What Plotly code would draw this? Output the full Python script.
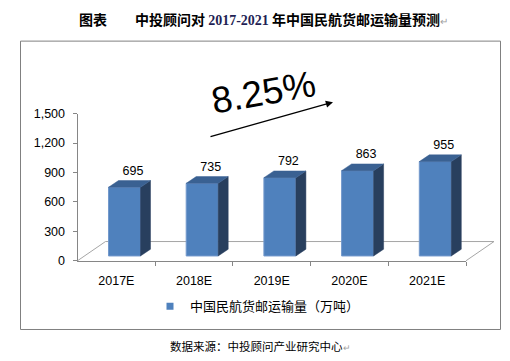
import plotly.graph_objects as go

# ---------------- data ----------------
categories = ["2017E", "2018E", "2019E", "2020E", "2021E"]
values = [695, 735, 792, 863, 955]
value_labels = ["695", "735", "792", "863", "955"]
y_tickvals = [0, 300, 600, 900, 1200, 1500]
y_ticktext = ["0", "300", "600", "900", "1,200", "1,500"]
series_name = "中国民航货邮运输量（万吨）"
growth_label = "8.25%"
title_cn_1 = "图表\u3000\u3000中投顾问对 "
title_years = "2017-2021"
title_cn_2 = " 年中国民航货邮运输量预测"
source_text = "数据来源：中投顾问产业研究中心"

# ---------------- geometry / style ----------------
W, H = 510, 361
AX_L, AX_R = 77.5, 466.0      # front floor edge (category axis) in px
AX_B, AX_T = 264.0, 111.0     # value axis 0 and 1500 in px
STEP = (AX_R - AX_L) / len(categories)
BAR0_CX = 124.5               # px centre of first bar front face
BAR_BASE = 259.0              # px of bar bottom (set back on the floor)
K = 0.1028                    # px per unit for bars
BAR_W = 32.0 / STEP
DX = 10.0 / STEP              # bar depth (x2 units)
DY = 7.0 / K                  # bar depth (y2 units)
FLOOR_DX = 28.0 / STEP
FLOOR_DY = 20.0 / K

FRONT = "#4F81BD"
SIDE = "#283F5E"
TOP = "#3A6192"
GRAY = "#868686"
NUM_FONT = "Liberation Sans, Arial, sans-serif"
CJK_FONT = "Noto Sans CJK SC, sans-serif"

x2_range = [(0 - BAR0_CX) / STEP, (W - BAR0_CX) / STEP]
y2_range = [(BAR_BASE - H) / K, BAR_BASE / K]

fig = go.Figure()

# front faces
fig.add_trace(go.Bar(
    x=list(range(len(values))), y=values, width=BAR_W,
    marker=dict(color=FRONT, line=dict(color="#7399CC", width=1)),
    xaxis="x2", yaxis="y2", showlegend=False, hoverinfo="skip"))

# side faces and top faces
sx, sy, tx, ty = [], [], [], []
for i, v in enumerate(values):
    r = i + BAR_W / 2
    l = i - BAR_W / 2
    sx += [r, r + DX, r + DX, r, r, None]
    sy += [0, DY, v + DY, v, 0, None]
    tx += [l, r, r + DX, l + DX, l, None]
    ty += [v, v, v + DY, v + DY, v, None]
fig.add_trace(go.Scatter(x=sx, y=sy, mode="lines", fill="toself", fillcolor=SIDE,
                         line=dict(color=SIDE, width=0.5), xaxis="x2", yaxis="y2",
                         showlegend=False, hoverinfo="skip"))
fig.add_trace(go.Scatter(x=tx, y=ty, mode="lines", fill="toself", fillcolor=TOP,
                         line=dict(color=TOP, width=0.5), xaxis="x2", yaxis="y2",
                         showlegend=False, hoverinfo="skip"))

# data labels
fig.add_trace(go.Scatter(
    x=[i + 8.5 / STEP for i in range(len(values))],
    y=[v + 16.5 / K for v in values],
    text=value_labels, mode="text", textposition="middle center",
    textfont=dict(family=NUM_FONT, size=12.5, color="black"),
    xaxis="x2", yaxis="y2", cliponaxis=False, showlegend=False, hoverinfo="skip"))

# legend entry (on the main axes so they are drawn)
fig.add_trace(go.Scatter(
    x=[None], y=[None], mode="markers", name=series_name,
    marker=dict(symbol="square", size=7, color=FRONT),
    xaxis="x", yaxis="y"))

# floor (back edge and sides)
fl_x = (AX_L - BAR0_CX) / STEP
fr_x = (AX_R - BAR0_CX) / STEP
f_y = -(AX_B - BAR_BASE) / K
floor_path = (f"M {fl_x},{f_y} L {fl_x + FLOOR_DX},{f_y + FLOOR_DY} "
              f"L {fr_x + FLOOR_DX},{f_y + FLOOR_DY} L {fr_x},{f_y}")
shapes = [
    dict(type="path", path=floor_path, xref="x2", yref="y2", layer="below",
         line=dict(color="#A6A6A6", width=1)),
    dict(type="rect", xref="paper", yref="paper",
         x0=20.5 / W, x1=500.5 / W, y0=1 - 335.5 / H, y1=1 - 35.5 / H,
         line=dict(color="#808080", width=1), fillcolor="rgba(0,0,0,0)"),
]

annotations = [
    dict(xref="paper", yref="paper", x=263 / W, y=1 - 12 / H, showarrow=False,
         xanchor="center", yanchor="middle",
         text=(title_cn_1 + f"<span style='font-family:Liberation Serif;color:#1F1F55'>{title_years}</span>"
               + title_cn_2 + "<span style='color:#A0A0A0;font-weight:normal;font-size:10px'>↵</span>"),
         font=dict(family=CJK_FONT, size=14, color="black", weight="bold")),
    dict(xref="paper", yref="paper", x=260 / W, y=1 - 352.5 / H, showarrow=False,
         xanchor="center", yanchor="middle",
         text=source_text + "<span style='color:#A0A0A0;font-size:9px'>↵</span>",
         font=dict(family=CJK_FONT, size=11.5, color="black")),
    dict(xref="paper", yref="paper", x=263 / W, y=1 - 88.5 / H, showarrow=False,
         xanchor="center", yanchor="middle", text=growth_label, textangle=-10,
         font=dict(family=NUM_FONT, size=37, color="black")),
    dict(xref="paper", yref="paper", x=333 / W, y=1 - 99 / H, text="",
         showarrow=True, ax=-124, ay=35, arrowhead=2, arrowsize=1.1,
         arrowwidth=1.3, arrowcolor="black"),
]

fig.update_layout(
    width=W, height=H, margin=dict(l=0, r=0, t=0, b=0),
    paper_bgcolor="white", plot_bgcolor="rgba(0,0,0,0)",
    font=dict(family=NUM_FONT, size=12.5, color="black"),
    showlegend=True,
    legend=dict(orientation="h", x=150 / W, y=1 - 311.5 / H,
                xanchor="left", yanchor="middle", bgcolor="rgba(0,0,0,0)",
                font=dict(family=CJK_FONT, size=13, color="black")),
    xaxis=dict(domain=[AX_L / W, AX_R / W], range=[-0.5, len(categories) - 0.5],
               tickmode="array", tickvals=list(range(len(categories))), ticktext=categories,
               ticks="", showline=True, linecolor=GRAY, linewidth=1,
               showgrid=False, zeroline=False, anchor="y", ticklabelstandoff=8,
               minor=dict(tickmode="array", tickvals=[i + 0.5 for i in range(len(categories))],
                          ticks="outside", ticklen=4, tickcolor=GRAY, showgrid=False),
               tickfont=dict(family=NUM_FONT, size=12.5, color="black"), fixedrange=True),
    yaxis=dict(domain=[1 - AX_B / H, 1 - AX_T / H], range=[0, 1500],
               tickmode="array", tickvals=y_tickvals, ticktext=y_ticktext,
               ticks="outside", ticklen=4, tickcolor=GRAY, showline=True,
               linecolor=GRAY, linewidth=1, showgrid=False, zeroline=False, anchor="x",
               ticklabelstandoff=5,
               tickfont=dict(family=NUM_FONT, size=12.5, color="black"), fixedrange=True),
    xaxis2=dict(domain=[0, 1], range=x2_range, visible=False, anchor="y2", fixedrange=True),
    yaxis2=dict(domain=[0, 1], range=y2_range, visible=False, anchor="x2", fixedrange=True),
    shapes=shapes, annotations=annotations,
)

fig.write_html("out.html", config={"displayModeBar": False},
               post_script="document.body.style.margin='0';document.body.style.overflow='hidden';")
